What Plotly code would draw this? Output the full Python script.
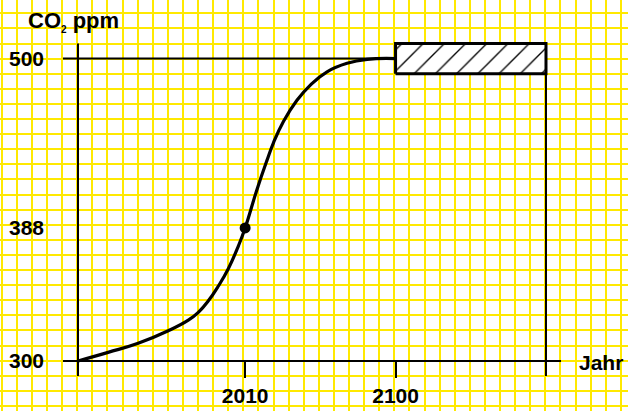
import plotly.graph_objects as go

# ---- data ----
years = [1910, 1928, 1946, 1964, 1976, 1982, 1988, 1994, 2000, 2006, 2010,
         2017, 2023, 2027, 2033, 2041, 2049, 2059, 2071, 2083, 2100]
co2 = [300, 305.7, 311.7, 320.0, 327.0, 332.2, 339.8, 349.6, 361.2, 376.2, 388,
       413.1, 432.5, 444.5, 458.5, 472.4, 482.5, 491.3, 496.9, 499.5, 500]
marker_year = [2010]
marker_ppm = [388]
target_years = [2100, 2190]
target_ppm = [490, 510]
x_tick_vals = [2010, 2100]
x_tick_text = ["2010", "2100"]
y_tick_vals = [300, 388, 500]
y_tick_text = ["300", "388", "500"]

# axis frame (years / ppm)
x_start, x_end = 1910, 2190
y_low, y_high = 290, 510

FONT = "Liberation Sans, Arial, Helvetica, sans-serif"
W, H = 628, 411

fig = go.Figure()

# grid-paper subplot (pixel units), empty trace just to create the overlay axes
fig.add_trace(go.Scatter(x=[], y=[], xaxis="x2", yaxis="y2", showlegend=False,
                         hoverinfo="skip"))

# hatched target box
bx = [target_years[0], target_years[1], target_years[1], target_years[0], target_years[0]]
by = [target_ppm[0], target_ppm[0], target_ppm[1], target_ppm[1], target_ppm[0]]
fig.add_trace(go.Scatter(
    x=bx, y=by, mode="lines", fill="toself",
    fillcolor="white",
    fillpattern=dict(shape="/", fgcolor="black", fgopacity=1, bgcolor="white",
                     size=15, solidity=0.09),
    line=dict(color="black", width=3), hoverinfo="skip", showlegend=False))

# curve
fig.add_trace(go.Scatter(
    x=years, y=co2, mode="lines",
    line=dict(color="black", width=3.2, shape="spline", smoothing=1.3),
    showlegend=False, hoverinfo="skip"))

# dot
fig.add_trace(go.Scatter(
    x=marker_year, y=marker_ppm, mode="markers",
    marker=dict(color="black", size=11), showlegend=False))

lw = 2
over = 9  # years overhang of horizontal lines left/right
shapes = [
    dict(type="line", xref="x", yref="y", x0=x_start - over, x1=x_end + over,
         y0=y_tick_vals[0], y1=y_tick_vals[0], line=dict(color="black", width=lw)),
    dict(type="line", xref="x", yref="y", x0=x_start - over, x1=target_years[0],
         y0=y_tick_vals[2], y1=y_tick_vals[2], line=dict(color="black", width=lw)),
    dict(type="line", xref="x", yref="y", x0=x_start, x1=x_start,
         y0=y_low, y1=y_high, line=dict(color="black", width=lw)),
    dict(type="line", xref="x", yref="y", x0=x_end, x1=x_end,
         y0=y_low, y1=target_ppm[0], line=dict(color="black", width=lw)),
]

fig.update_layout(
    width=W, height=H,
    margin=dict(l=0, r=0, t=0, b=0),
    paper_bgcolor="white", plot_bgcolor="white",
    showlegend=False,
    shapes=shapes,
    xaxis=dict(range=[1863.33, 2239.07], domain=[0, 1], anchor="free",
               position=(H - 360.7) / H,
               tickmode="array", tickvals=x_tick_vals, ticktext=x_tick_text,
               ticks="outside", ticklen=16, tickwidth=2, tickcolor="black",
               showgrid=False, zeroline=False, showline=False,
               tickfont=dict(family=FONT, size=21, color="black", weight="bold")),
    yaxis=dict(range=[266.93, 538.76], domain=[0, 1], anchor="free",
               position=44 / W,
               tickmode="array", tickvals=y_tick_vals, ticktext=y_tick_text,
               ticks="", showgrid=False, zeroline=False, showline=False,
               tickfont=dict(family=FONT, size=21, color="black", weight="bold")),
    xaxis2=dict(range=[0, W], overlaying="x", anchor="y2", showticklabels=False,
                ticks="", tickmode="linear", tick0=1.7, dtick=15.1,
                showgrid=True, gridcolor="#FFE900", gridwidth=1.5, zeroline=False,
                showline=False),
    yaxis2=dict(range=[H, 0], overlaying="y", anchor="x2", showticklabels=False,
                ticks="", tickmode="linear", tick0=13.3, dtick=15.1,
                showgrid=True, gridcolor="#FFE900", gridwidth=1.5, zeroline=False,
                showline=False),
    annotations=[
        dict(text="CO<sub><span style='font-size:10px'>2</span></sub> ppm",
             xref="paper", yref="paper",
             x=26 / W, y=1 - 21 / H, xanchor="left", yanchor="middle",
             showarrow=False,
             font=dict(family=FONT, size=22, color="black", weight="bold")),
        dict(text="Jahr", xref="paper", yref="paper",
             x=577 / W, y=1 - 362 / H, xanchor="left", yanchor="middle",
             showarrow=False,
             font=dict(family=FONT, size=21, color="black", weight="bold")),
    ],
)

fig.write_html("out.html",
               config={"displayModeBar": False},
               post_script="document.body.style.margin='0';"
                           "document.body.style.overflow='hidden';")
